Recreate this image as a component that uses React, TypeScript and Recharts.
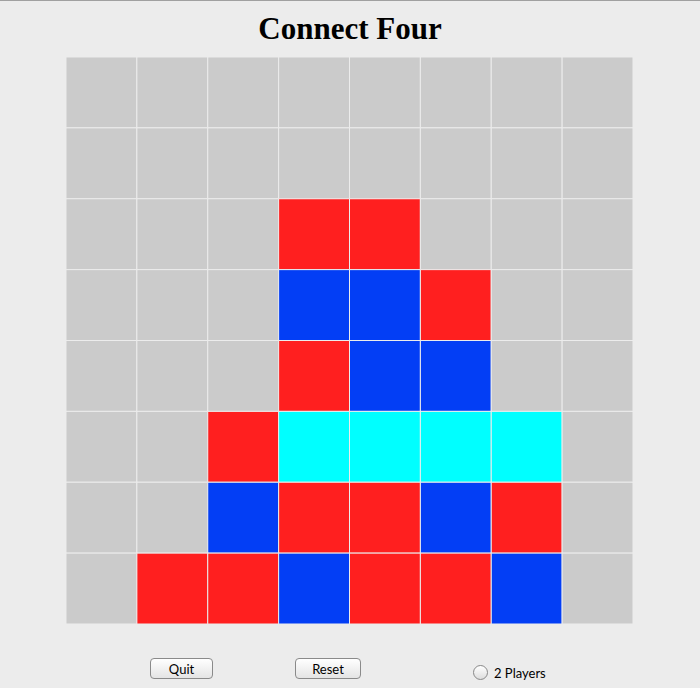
import { ScatterChart, Scatter, XAxis, YAxis } from "recharts";

// board rows top to bottom, columns left to right: "" empty, R red, B blue, C winning cyan
const rows: string[][] = [
  ["", "", "", "", "", "", "", ""],
  ["", "", "", "", "", "", "", ""],
  ["", "", "", "R", "R", "", "", ""],
  ["", "", "", "B", "B", "R", "", ""],
  ["", "", "", "R", "B", "B", "", ""],
  ["", "", "R", "C", "C", "C", "C", ""],
  ["", "", "B", "R", "R", "B", "R", ""],
  ["", "R", "R", "B", "R", "R", "B", ""],
];

const COLORS: Record<string, string> = { "": "#cbcbcb", R: "#ff1f1f", B: "#033ef5", C: "#00ffff" };
const CELL = 567 / 8;

const cells = rows.flatMap((r, ri) => r.map((v, ci) => ({ x: ci + 0.5, y: ri + 0.5, v })));

const btn: React.CSSProperties = {
  position: "absolute", top: 657, height: 21, border: "1px solid #8a8a8a", borderRadius: 4,
  background: "linear-gradient(#ffffff, #e4e4e4)", fontFamily: "Lato, 'DejaVu Sans', sans-serif",
  fontSize: 13, display: "flex", alignItems: "center", justifyContent: "center", boxSizing: "border-box",
};

export default function App() {
  return (
    <div style={{ position: "absolute", left: 0, top: 0, width: 700, height: 688, background: "#ececec", borderTop: "1px solid #a0a0a0", boxSizing: "border-box", overflow: "hidden" }}>
      <div style={{ position: "absolute", top: 10, width: 700, textAlign: "center", fontFamily: "'Liberation Serif', serif", fontWeight: 700, fontSize: 31 }}>
        Connect Four
      </div>
      <div style={{ position: "absolute", left: 0, top: -1 }}>
        <ScatterChart width={700} height={688} margin={{ top: 57, right: 67, bottom: 64, left: 66 }}>
          <XAxis type="number" dataKey="x" domain={[0, 8]} hide />
          <YAxis type="number" dataKey="y" domain={[0, 8]} reversed hide />
          <Scatter data={cells} isAnimationActive={false} shape={(p: any) => (
            <rect x={p.cx - CELL / 2} y={p.cy - CELL / 2} width={CELL} height={CELL}
              fill={COLORS[p.payload.v]} stroke="#ececec" strokeWidth={1} />
          )} />
        </ScatterChart>
      </div>
      <div style={{ ...btn, left: 150, width: 63 }}>Quit</div>
      <div style={{ ...btn, left: 295, width: 66 }}>Reset</div>
      <div style={{ position: "absolute", left: 473, top: 664, width: 15, height: 15, borderRadius: "50%", border: "1px solid #888", background: "linear-gradient(#fff,#ddd)", boxSizing: "border-box" }} />
      <div style={{ position: "absolute", left: 494, top: 664, fontFamily: "Lato, 'DejaVu Sans', sans-serif", fontSize: 13 }}>2 Players</div>
    </div>
  );
}
